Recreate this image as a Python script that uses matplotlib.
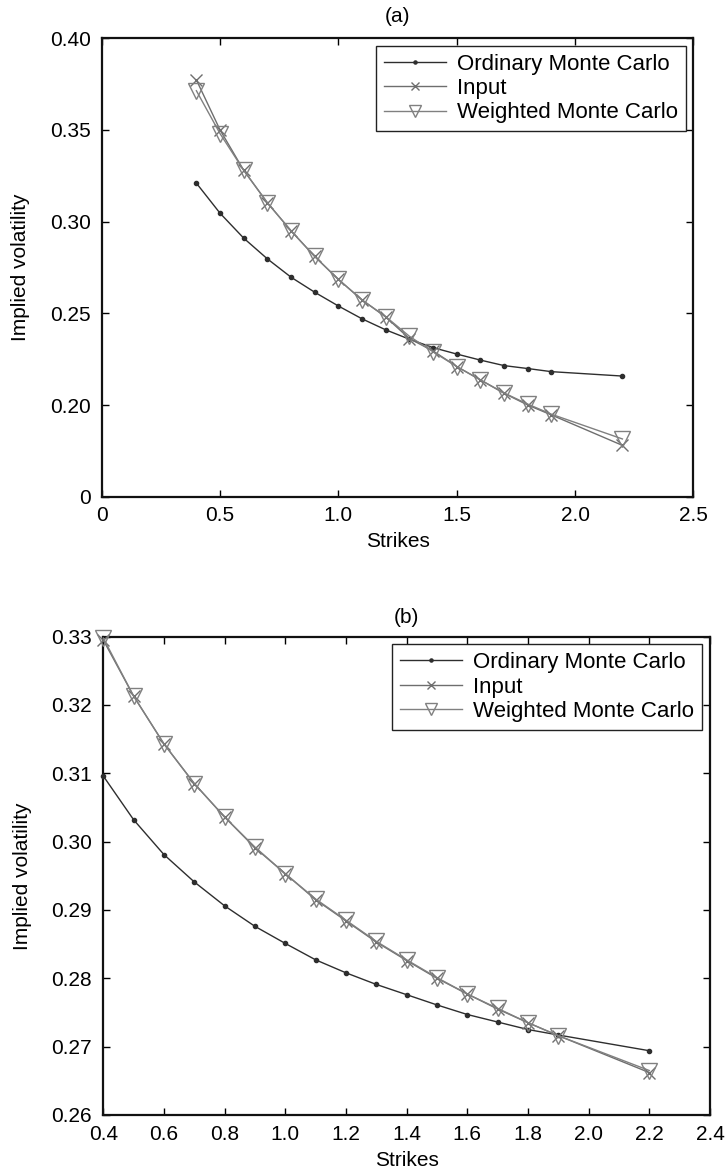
import matplotlib
matplotlib.use("Agg")
import matplotlib.pyplot as plt

plt.rcParams['font.family'] = ['Liberation Sans', 'DejaVu Sans']

# Strike grid shared by both panels
strikes = [0.4, 0.5, 0.6, 0.7, 0.8, 0.9, 1.0, 1.1, 1.2, 1.3, 1.4, 1.5, 1.6, 1.7, 1.8, 1.9, 2.2]

# Panel (a)
ordinary_a = [0.3210, 0.3046, 0.2910, 0.2797, 0.2697, 0.2615, 0.2540, 0.2470, 0.2410,
              0.2359, 0.2313, 0.2278, 0.2245, 0.2215, 0.2199, 0.2182, 0.2158]
input_a = [0.3773, 0.3500, 0.3280, 0.3103, 0.2950, 0.2810, 0.2685, 0.2573, 0.2480,
           0.2362, 0.2295, 0.2210, 0.2137, 0.2064, 0.2000, 0.1946, 0.1780]
weighted_a = [0.3714, 0.3480, 0.3280, 0.3103, 0.2950, 0.2810, 0.2685, 0.2573, 0.2482,
              0.2375, 0.2290, 0.2210, 0.2137, 0.2066, 0.2005, 0.1950, 0.1815]

# Panel (b)
ordinary_b = [0.3096, 0.3032, 0.2981, 0.2941, 0.2906, 0.2876, 0.2851, 0.2827, 0.2808,
              0.2791, 0.2776, 0.2761, 0.2747, 0.2736, 0.2725, 0.2717, 0.2694]
input_b = [0.3295, 0.3213, 0.3143, 0.3085, 0.3036, 0.2991, 0.2953, 0.2915, 0.2884,
           0.2853, 0.2826, 0.2800, 0.2777, 0.2755, 0.2735, 0.2716, 0.2662]
weighted_b = [0.3298, 0.3213, 0.3143, 0.3085, 0.3036, 0.2992, 0.2953, 0.2916, 0.2885,
              0.2854, 0.2827, 0.2801, 0.2777, 0.2756, 0.2735, 0.2716, 0.2665]

series_labels = ["Ordinary Monte Carlo", "Input", "Weighted Monte Carlo"]

xticks_a = [0, 0.5, 1.0, 1.5, 2.0, 2.5]
xticklabels_a = ["0", "0.5", "1.0", "1.5", "2.0", "2.5"]
yticks_a = [0.15, 0.20, 0.25, 0.30, 0.35, 0.40]
yticklabels_a = ["0", "0.20", "0.25", "0.30", "0.35", "0.40"]

xticks_b = [0.4, 0.6, 0.8, 1.0, 1.2, 1.4, 1.6, 1.8, 2.0, 2.2, 2.4]
xticklabels_b = ["0.4", "0.6", "0.8", "1.0", "1.2", "1.4", "1.6", "1.8", "2.0", "2.2", "2.4"]
yticks_b = [0.26, 0.27, 0.28, 0.29, 0.30, 0.31, 0.32, 0.33]
yticklabels_b = ["0.26", "0.27", "0.28", "0.29", "0.30", "0.31", "0.32", "0.33"]

C_DARK = "#2e2e2e"
C_GRAY = "#6e6e6e"
C_TRI = "#808080"
FS = 15
FS_LEG = 16

fig = plt.figure(figsize=(7.27, 11.74), dpi=100)
ax_a = fig.add_axes([0.1399, 0.5769, 0.8139, 0.3905])
ax_b = fig.add_axes([0.1421, 0.0503, 0.8345, 0.4074])


def draw_panel(ax, omc, inp, wmc, xlim, ylim, xt, xtl, yt, ytl, title, tpad):
    ax.plot(strikes, omc, color=C_DARK, lw=1.0, marker='o', ms=3,
            mfc=C_DARK, mec=C_DARK, label=series_labels[0], clip_on=False, zorder=3)
    ax.plot(strikes, inp, color=C_GRAY, lw=1.0, marker='x', ms=8, mew=1.0,
            label=series_labels[1], clip_on=False, zorder=4)
    ax.plot(strikes, wmc, color=C_TRI, lw=1.0, marker='v', ms=12, mew=1.0,
            mfc='none', mec=C_TRI, label=series_labels[2], clip_on=False, zorder=5)
    ax.set_xlim(*xlim)
    ax.set_ylim(*ylim)
    ax.set_xticks(xt)
    ax.set_xticklabels(xtl)
    ax.set_yticks(yt)
    ax.set_yticklabels(ytl)
    ax.tick_params(direction='in', length=5, width=1.0, top=True, right=True,
                   labelsize=FS, color='black')
    ax.tick_params(axis='x', pad=7)
    ax.tick_params(axis='y', pad=8)
    for sp in ax.spines.values():
        sp.set_linewidth(1.6)
        sp.set_color('#111111')
    ax.set_xlabel("Strikes", fontsize=FS, labelpad=5)
    ax.set_ylabel("Implied volatility", fontsize=FS, labelpad=14)
    ax.set_title(title, fontsize=FS, pad=tpad)
    leg = ax.legend(loc='upper right', fontsize=FS_LEG, frameon=True, fancybox=False,
                    framealpha=1, edgecolor='#222222', handlelength=2.8,
                    borderaxespad=0.35, borderpad=0.35, labelspacing=0.15,
                    handletextpad=0.5, numpoints=1, markerscale=0.75)
    leg.get_frame().set_linewidth(1.0)


draw_panel(ax_a, ordinary_a, input_a, weighted_a, (0, 2.5), (0.15, 0.40),
           xticks_a, xticklabels_a, yticks_a, yticklabels_a, "(a)", 12)
draw_panel(ax_b, ordinary_b, input_b, weighted_b, (0.4, 2.4), (0.26, 0.33),
           xticks_b, xticklabels_b, yticks_b, yticklabels_b, "(b)", 10)

fig.savefig("out.png", dpi=100)
